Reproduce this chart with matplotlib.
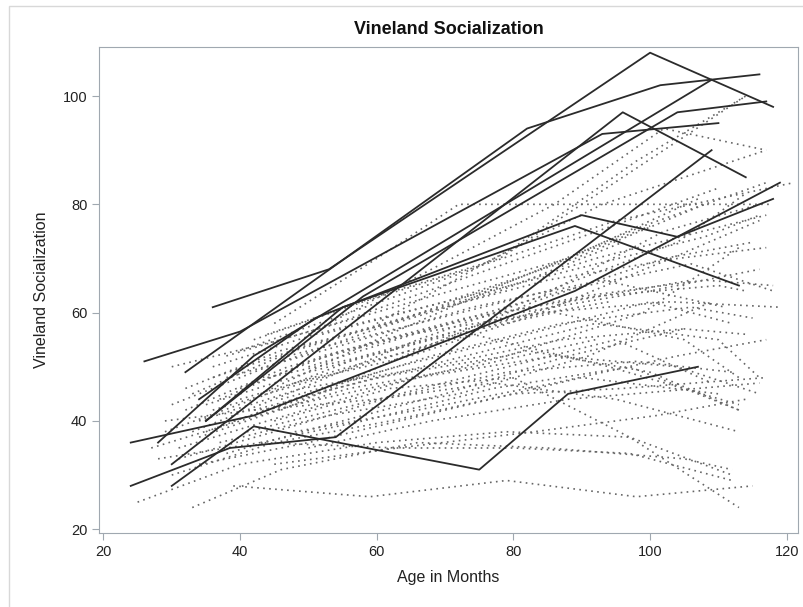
import matplotlib
matplotlib.use("Agg")
import matplotlib.pyplot as plt
from matplotlib.patches import Rectangle

# subjects drawn solid (age in months, socialization score)
solid_ages = [
    [36, 53, 100, 118],
    [26, 40, 93, 110],
    [32, 82, 101.5, 116],
    [30, 96, 114],
    [28, 42, 109],
    [35, 58, 104, 117],
    [24, 42, 89, 119],
    [24, 38.5, 54, 109],
    [30, 42, 75, 88, 107],
    [34, 51, 90, 104, 118],
    [35, 55, 89, 113],
]
solid_scores = [
    [61, 68, 108, 98],
    [51, 56.5, 93, 95],
    [49, 94, 102, 104],
    [32, 97, 85],
    [36, 52, 103],
    [40, 63, 97, 99],
    [36, 41, 64, 84],
    [28, 35, 37, 90],
    [28, 39, 31, 45, 50],
    [44, 59, 78, 74, 81],
    [40, 61, 76, 65],
]

# subjects drawn dotted
dotted_ages = [
    [39, 59, 79, 98, 115], [25, 40, 60, 79, 97, 113], [33, 46, 66, 85, 105, 112],
    [28, 43, 63, 80, 97, 112], [29, 42, 60, 77, 95, 113], [30, 46, 68, 88, 107],
    [36, 50, 72, 92, 117], [31, 44, 63, 82, 100, 113], [34, 48, 66, 86, 104, 116],
    [30, 45, 62, 80, 96, 117], [38, 52, 70, 88, 105, 114], [35, 50, 68, 87, 106, 115],
    [32, 47, 65, 84, 103, 119], [37, 52, 71, 90, 108, 118], [40, 55, 73, 92, 110, 114],
    [33, 48, 67, 85, 104, 117], [36, 51, 70, 89, 108, 116], [38, 54, 72, 90, 110],
    [42, 58, 76, 95, 121], [40, 56, 74, 93, 117], [44, 60, 78, 96, 114],
    [35, 50, 68, 86, 105, 113], [39, 54, 73, 92, 110, 116], [41, 57, 76, 95, 109],
    [43, 58, 77, 97, 113], [45, 62, 80, 97, 112], [34, 50, 70, 90, 110],
    [46, 63, 82, 100, 112], [48, 65, 84, 103, 116], [50, 68, 87, 106, 118],
    [37, 53, 72, 91, 109], [42, 60, 79, 99, 113], [44, 62, 81, 100, 116],
    [47, 66, 85, 104, 114], [52, 70, 89, 108], [30, 44, 60, 78, 96],
    [32, 46, 62, 80, 100], [29, 42, 58, 76, 94], [31, 45, 61, 79, 98, 112],
    [36, 52, 70, 88, 106], [40, 56, 74, 94, 113], [38, 55, 74, 93, 111],
    [48, 66, 86, 104, 117], [50, 68, 88, 107, 116], [45, 63, 83, 101, 114],
    [43, 60, 80, 99, 117], [27, 40, 56, 74, 92], [34, 49, 68, 87, 105],
    [33, 47, 66, 84, 102, 116], [46, 64, 83, 102, 115], [45, 60, 72, 95, 118],
    [60, 80, 98, 114], [50, 68, 86, 102, 117],
]
dotted_scores = [
    [28, 26, 29, 26, 28], [25, 32, 36, 38, 37, 24], [24, 31, 36, 35, 33, 31],
    [33, 36, 35, 35, 34, 29], [40, 42, 44, 47, 44, 38], [50, 55, 63, 70, 81],
    [48, 54, 62, 70, 78], [35, 40, 47, 53, 49, 42], [37, 43, 48, 52, 50, 45],
    [30, 36, 40, 45, 46, 48], [34, 39, 45, 52, 57, 56], [38, 45, 52, 58, 61, 59],
    [42, 50, 56, 60, 62, 61], [44, 52, 58, 63, 66, 65], [46, 53, 59, 63, 65, 64],
    [45, 53, 60, 66, 70, 72], [50, 56, 62, 68, 74, 78], [52, 58, 66, 74, 83],
    [55, 62, 69, 77, 84], [53, 60, 68, 80, 90], [56, 63, 70, 85, 100],
    [43, 49, 55, 60, 55, 48], [40, 46, 52, 58, 55, 48], [38, 43, 49, 55, 47],
    [36, 40, 46, 50, 42], [40, 46, 48, 37, 30], [32, 36, 42, 48, 45],
    [44, 50, 56, 62, 58], [47, 52, 60, 70, 77], [50, 57, 64, 69, 64],
    [36, 41, 45, 52, 62], [42, 48, 52, 60, 72], [48, 53, 60, 64, 68],
    [52, 58, 64, 73, 82], [56, 62, 70, 80], [43, 50, 57, 64, 73],
    [46, 53, 58, 66, 76], [38, 44, 52, 58, 62], [33, 38, 44, 49, 51, 49],
    [42, 48, 55, 62, 66], [44, 50, 56, 50, 43], [48, 54, 61, 66, 61],
    [38, 42, 47, 52, 55], [35, 40, 44, 46, 47], [32, 35, 38, 41, 44],
    [45, 55, 66, 76, 84], [35, 40, 46, 50, 55], [40, 46, 50, 55, 57],
    [38, 45, 55, 63, 75, 80], [42, 52, 62, 70, 73], [58, 70, 80, 80, 80],
    [58, 72, 88, 100], [56, 68, 80, 94, 90],
]

fig = plt.figure(figsize=(8.04, 6.07), dpi=100)
plt.rcParams["font.family"] = ["Liberation Sans", "DejaVu Sans"]

ax = fig.add_axes([99.3 / 804, 1 - 533 / 607, (797.7 - 99.3) / 804, (533 - 47.3) / 607])

for a, s in zip(dotted_ages, dotted_scores):
    ax.plot(a, s, color="#666666", lw=1.2, linestyle=(0, (1, 2.6)))
for a, s in zip(solid_ages, solid_scores):
    ax.plot(a, s, color="#2b2b2b", lw=1.3)

ax.set_xlim(19.4, 121.6)
ax.set_ylim(19.3, 109)
ax.set_xticks(range(20, 121, 20))
ax.set_yticks(range(20, 101, 20))
for sp in ax.spines.values():
    sp.set_color("#a0a8b0")
ax.tick_params(colors="#a0a8b0", labelcolor="#222222", labelsize=10.5, length=5)
ax.set_xlabel("Age in Months", fontsize=11.5, color="#222222", labelpad=8)
ax.set_ylabel("Vineland Socialization", fontsize=11.5, color="#222222", labelpad=10)

fig.text(448.5 / 804, 1 - 30 / 607, "Vineland Socialization", ha="center", va="center",
         fontsize=13, fontweight="bold", color="#111111")

fig.patches.append(Rectangle((9 / 804, -0.05), 1.2, 1.05 - 6 / 607, transform=fig.transFigure,
                             fill=False, edgecolor="#d8d8d8", lw=1))

fig.savefig("out.png", dpi=100)
